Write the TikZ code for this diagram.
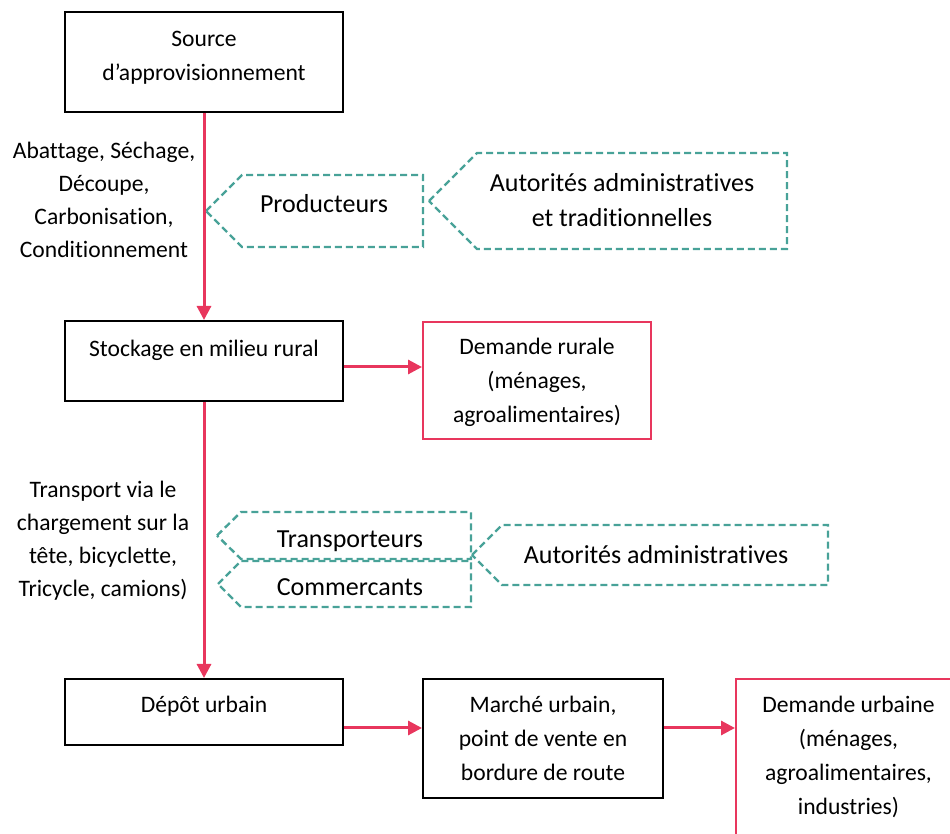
\documentclass[tikz,border=0pt]{standalone}
\usepackage{fontspec}
\setmainfont[Ligatures={TeX,NoCommon}]{Carlito}
\usetikzlibrary{arrows.meta}
\definecolor{flowred}{RGB}{232,54,93}
\definecolor{actorteal}{RGB}{72,162,152}
\tikzset{
  box/.style={draw, line width=1pt, inner sep=0pt, align=flush center, anchor=base,
    font=\fontsize{11.8}{17}\selectfont},
  redbox/.style={box, draw=flowred},
  actor/.style={draw=actorteal, line width=1.2pt, dash pattern=on 3.5pt off 2pt},
  actortext/.style={font=\fontsize{13}{17.5}\selectfont, align=flush center, inner sep=0pt, anchor=base},
  steplabel/.style={font=\fontsize{11.8}{16.5}\selectfont, align=flush center, inner sep=0pt,
    anchor=base, text width=100pt},
  flow/.style={draw=flowred, line width=1.5pt, -{Triangle[length=7pt,width=7pt]}},
}
\begin{document}
\begin{tikzpicture}[x=0.5pt, y=-0.5pt]
  \useasboundingbox (0,0) rectangle (950,834);
  \clip (0,0) rectangle (950,834);

  % Define nodes
  \node[box, text width=139pt, text height=17.5pt, text depth=32.5pt] (src) at (204,47) {Source\\d'approvisionnement};
  \node[box, text width=139pt, text height=18pt, text depth=22pt] (stock) at (204,357) {Stockage en milieu rural};
  \node[redbox, text width=114pt, text height=16.5pt, text depth=42pt] (rural) at (537,355) {Demande rurale\\(ménages,\\agroalimentaires)};
  \node[box, text width=139pt, text height=17pt, text depth=16pt] (depot) at (204,713) {Dépôt urbain};
  \node[box, text width=120pt, text height=17pt, text depth=42.5pt] (marche) at (543,713) {Marché urbain,\\point de vente en\\bordure de route};
  \node[redbox, text width=112.5pt, text height=17pt, text depth=83.5pt] (urbaine) at (848.5,713) {Demande urbaine\\(ménages,\\agroalimentaires,\\industries)};

  % Labels beside the flow
  \node[steplabel] (prep) at (104,159) {Abattage, Séchage,\\Découpe,\\Carbonisation,\\Conditionnement};
  \node[steplabel] (transp) at (103,498) {Transport via le\\chargement sur la\\tête, bicyclette,\\Tricycle, camions)};

  % Actors
  \draw[actor] (206,211) -- (242,175) -- (423,175) -- (423,247) -- (242,247) -- cycle;
  \node[actortext] (prod) at (324,213) {Producteurs};
  \draw[actor] (429,201) -- (477,153) -- (787,153) -- (787,249) -- (477,249) -- cycle;
  \node[actortext, text width=170pt] (auth1) at (622,192) {Autorités administratives\\et traditionnelles};
  \draw[actor] (217,535.5) -- (241,512) -- (471,512) -- (471,559) -- (241,559) -- cycle;
  \node[actortext] (trans) at (350,548) {Transporteurs};
  \draw[actor] (218,584) -- (241,561) -- (471,561) -- (471,607) -- (241,607) -- cycle;
  \node[actortext] (comm) at (350,596) {Commercants};
  \draw[actor] (472,555) -- (502,525) -- (828,525) -- (828,585) -- (502,585) -- cycle;
  \node[actortext] (auth2) at (656,564) {Autorités administratives};

  % Draw edges
  \draw[flow] (src) -- (stock);
  \draw[flow] (stock) -- (depot);
  \draw[flow] ([yshift=-3pt]stock.east) -- ([yshift=-3pt]stock.east -| rural.west);
  \draw[flow] ([yshift=-8pt]depot.east) -- ([yshift=-8pt]depot.east -| marche.west);
  \draw[flow] ([yshift=-8pt]depot.east -| marche.east) -- ([yshift=-8pt]depot.east -| urbaine.west);
\end{tikzpicture}
\end{document}
